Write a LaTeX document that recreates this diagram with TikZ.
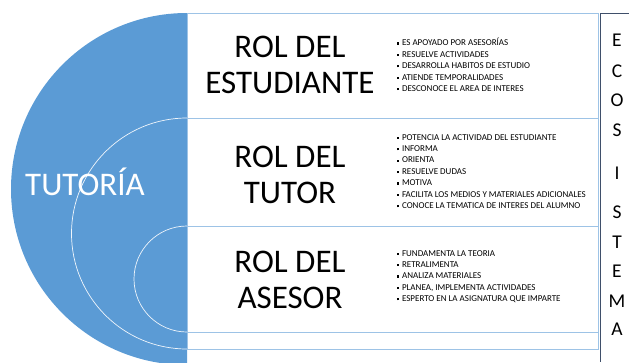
\documentclass[tikz,border=0pt]{standalone}
\usepackage{fontspec}
\setmainfont{Carlito}
\usepackage{tikz}
\definecolor{tutblue}{HTML}{5B9BD5}
\definecolor{boxline}{HTML}{9DC3E6}
\definecolor{ecoline}{HTML}{3F4F6A}
\newcommand\sq{\rule[0.3ex]{0.5ex}{0.5ex}\hspace{0.3em}}

\begin{document}
\begin{tikzpicture}[x=1pt,y=-1pt,
  rol/.style={font=\fontsize{33}{36}\selectfont, align=center, inner sep=0pt},
  lista/.style={font=\fontsize{9}{11.4}\selectfont, align=left, anchor=west, inner sep=0pt},
  letra/.style={font=\fontsize{19.5}{19.5}\selectfont, inner sep=0pt},
  caja/.style={draw=boxline, line width=0.8pt}]

  \newcommand\XL{187};
  \newcommand\XR{598};
  \newcommand\XE{617};

  \useasboundingbox (0,0) rectangle (629,362);

  % half circles
  \begin{scope}
    \clip (0,0) rectangle (\XL,362);
    \fill[tutblue] (\XL,189) circle[radius=176pt];
    \draw[white!90!tutblue, line width=0.7pt] (\XL,233.5) circle[radius=115.5pt];
    \draw[white!90!tutblue, line width=0.7pt] (\XL,279) circle[radius=53pt];
  \end{scope}
  \node[rol, text=white] (tutoria) at (85,182) {TUTORÍA};

  % role boxes
  \draw[caja] (\XL,13) rectangle (\XR,118);
  \draw[caja] (\XL,118) rectangle (\XR,226);
  \draw[caja] (\XL,226) rectangle (\XR,332);
  \draw[caja] (\XL,332) rectangle (\XR,349);

  \node[rol] (estudiante) at (290,65) {ROL DEL\\ESTUDIANTE};
  \node[rol] (tutor) at (290,174.5) {ROL DEL\\TUTOR};
  \node[rol] (asesor) at (290,279.5) {ROL DEL\\ASESOR};

  \node[lista] (lestudiante) at (397,65) {\sq ES APOYADO POR ASESORÍAS\\
    \sq RESUELVE ACTIVIDADES\\
    \sq DESARROLLA HABITOS DE ESTUDIO\\
    \sq ATIENDE TEMPORALIDADES\\
    \sq DESCONOCE EL AREA DE INTERES};
  \node[lista] (ltutor) at (397,171.5) {\sq POTENCIA LA ACTIVIDAD DEL ESTUDIANTE\\
    \sq INFORMA\\
    \sq ORIENTA\\
    \sq RESUELVE DUDAS\\
    \sq MOTIVA\\
    \sq FACILITA LOS MEDIOS Y MATERIALES ADICIONALES\\
    \sq CONOCE LA TEMATICA DE INTERES DEL ALUMNO};
  \node[lista] (lasesor) at (397,276.5) {\sq FUNDAMENTA LA TEORIA\\
    \sq RETRALIMENTA\\
    \sq ANALIZA MATERIALES\\
    \sq PLANEA, IMPLEMENTA ACTIVIDADES\\
    \sq ESPERTO EN LA ASIGNATURA QUE IMPARTE};

  % ecosistema column
  \draw[ecoline, line width=0.8pt] (629,13) -- (600,13) -- (600,362);
  \node[letra] (e1) at (\XE,40.7) {E};
  \node[letra] (c1) at (\XE,71.7) {C};
  \node[letra] (o1) at (\XE,100.5) {O};
  \node[letra] (s1) at (\XE,130) {S};
  \node[letra] (i1) at (\XE,173) {I};
  \node[letra] (s2) at (\XE,212.7) {S};
  \node[letra] (t1) at (\XE,242.7) {T};
  \node[letra] (e2) at (\XE,271.7) {E};
  \node[letra] (m1) at (\XE,301) {M};
  \node[letra] (a1) at (\XE,329) {A};
\end{tikzpicture}
\end{document}
